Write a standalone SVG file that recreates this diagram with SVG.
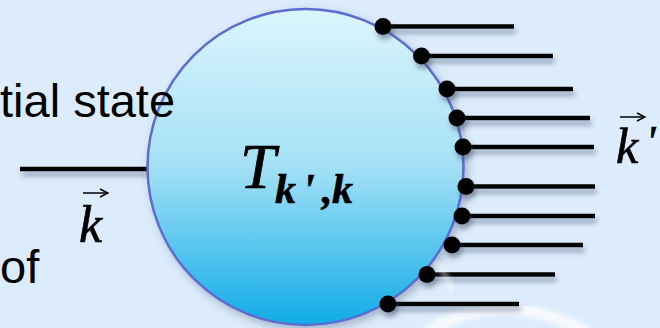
<svg xmlns="http://www.w3.org/2000/svg" width="660" height="328" viewBox="0 0 660 328">
<defs>
<linearGradient id="ball" x1="0" y1="0" x2="0" y2="1">
<stop offset="0" stop-color="#dcf5fd"/>
<stop offset="0.5" stop-color="#a4e0f6"/>
<stop offset="1" stop-color="#10ace7"/>
</linearGradient>
<filter id="sh" x="-20%" y="-50%" width="140%" height="300%">
<feDropShadow dx="2" dy="5" stdDeviation="2.5" flood-color="#3a4a66" flood-opacity="0.45"/>
</filter>
<filter id="shc" x="-20%" y="-20%" width="140%" height="140%">
<feDropShadow dx="3" dy="4" stdDeviation="4" flood-color="#3a4a66" flood-opacity="0.35"/>
</filter>
<filter id="blur"><feGaussianBlur stdDeviation="2.5"/></filter>
<marker id="ah" viewBox="0 0 10 10" refX="9" refY="5" markerWidth="10" markerHeight="10" markerUnits="userSpaceOnUse" orient="auto">
<path d="M1,1 L9,5 L1,9" fill="none" stroke="#000" stroke-width="1.4"/>
</marker>
<style>
.ln{stroke:#000;stroke-width:4.5;fill:none}
.dot{fill:#000}
.sans{font-family:"Liberation Sans",Arial,sans-serif;font-size:47px;fill:#000}
.mi{font-family:"Liberation Serif",serif;font-style:italic;fill:#000;stroke:#000;stroke-width:0.7}
.mb{font-family:"Liberation Serif",serif;font-style:italic;font-weight:bold;fill:#000;stroke:#000;stroke-width:0.6}
.vec{stroke:#000;stroke-width:1.5;fill:none}
</style>
</defs>
<rect width="660" height="328" fill="#dcecfc"/>
<path d="M425,334 Q500,284 590,334" fill="none" stroke="#ffffff" stroke-width="12" opacity="0.75" filter="url(#blur)"/>
<g id="connectors" filter="url(#sh)">
<line class="ln" x1="20" y1="169" x2="148" y2="169"/>
<line class="ln" x1="383" y1="26.5" x2="514" y2="26.5"/>
<line class="ln" x1="421.5" y1="56" x2="553" y2="56"/>
<line class="ln" x1="447" y1="89" x2="573" y2="89"/>
<line class="ln" x1="457" y1="118" x2="590" y2="118"/>
<line class="ln" x1="463" y1="147" x2="594" y2="147"/>
<line class="ln" x1="466" y1="186.5" x2="595" y2="186.5"/>
<line class="ln" x1="462" y1="216" x2="595" y2="216"/>
<line class="ln" x1="452" y1="245" x2="583" y2="245"/>
<line class="ln" x1="427" y1="274.5" x2="555" y2="274.5"/>
<line class="ln" x1="388" y1="304" x2="519" y2="304"/>
</g>
<g id="T-node">
<circle cx="305.5" cy="167" r="158" fill="url(#ball)" stroke="#5b6cd0" stroke-width="2.5" filter="url(#shc)"/>
<path d="M435,262 Q448,275 452,292" fill="none" stroke="#ffffff" stroke-width="5" opacity="0.5" filter="url(#blur)"/>
<text class="mi" x="240" y="188" font-size="64" stroke-width="0.4">T</text>
<text class="mb" x="275" y="203" font-size="42">k</text>
<text class="mb" x="302" y="206" font-size="46">'</text>
<text class="mb" x="322" y="203" font-size="42">,</text>
<text class="mb" x="332" y="203" font-size="42">k</text>
</g>
<g id="labels">
<text class="sans" x="0" y="117">tial state</text>
<text class="sans" x="0" y="283">of</text>
</g>
<g id="dots" filter="url(#sh)">
<circle class="dot" cx="383" cy="26.5" r="8.5"/>
<circle class="dot" cx="421.5" cy="56" r="8.5"/>
<circle class="dot" cx="447" cy="89" r="8.5"/>
<circle class="dot" cx="457" cy="118" r="8.5"/>
<circle class="dot" cx="463" cy="147" r="8.5"/>
<circle class="dot" cx="466" cy="186.5" r="8.5"/>
<circle class="dot" cx="462" cy="216" r="8.5"/>
<circle class="dot" cx="452" cy="245" r="8.5"/>
<circle class="dot" cx="427" cy="274.5" r="8.5"/>
<circle class="dot" cx="388" cy="304" r="8.5"/>
</g>
<g id="k-in">
<line class="vec" x1="83" y1="193" x2="108" y2="193" marker-end="url(#ah)"/>
<text class="mi" x="79" y="242" font-size="52">k</text>
</g>
<g id="k-out">
<line class="vec" x1="620" y1="117" x2="645" y2="117" marker-end="url(#ah)"/>
<text class="mi" x="616" y="163" font-size="50">k</text>
<text class="mi" x="646" y="156" font-size="44">'</text>
</g>
</svg>
